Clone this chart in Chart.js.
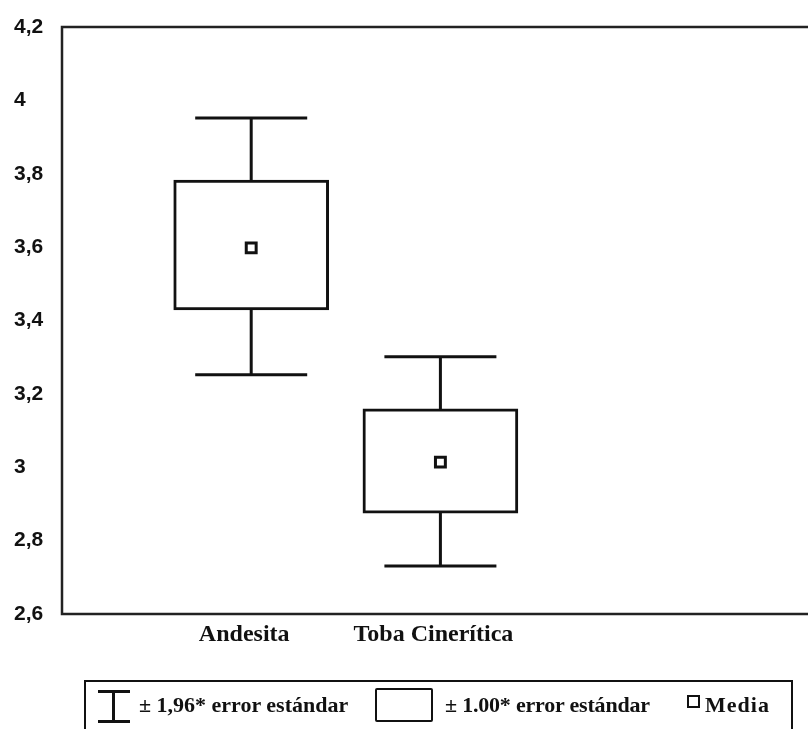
<!DOCTYPE html>
<html lang="es">
<head>
    <meta charset="UTF-8">
    <title>Andesita / Toba Cinerítica</title>
    <style>
        body {
            margin: 0;
            background: #fff;
            overflow: hidden;
        }
        #wrap {
            position: relative;
            width: 808px;
            height: 729px;
        }
        .legend {
            position: absolute;
            left: 84px;
            top: 680px;
            width: 709px;
            height: 49px;
            box-sizing: border-box;
            border: 2px solid #111;
            border-bottom: none;
            font-family: "Liberation Serif", serif;
            font-weight: bold;
            font-size: 22px;
            color: #111;
        }
        .legend .txt {
            position: absolute;
            top: 0;
            line-height: 45px;
            white-space: nowrap;
        }
        .ibeam {
            position: absolute;
            left: 12px;
            top: 8px;
            width: 32px;
            height: 33px;
            box-sizing: border-box;
            border-top: 3px solid #111;
            border-bottom: 3px solid #111;
        }
        .ibeam::after {
            content: "";
            position: absolute;
            left: 14px;
            top: 0;
            bottom: 0;
            width: 3px;
            background: #111;
        }
        .boxsym {
            position: absolute;
            left: 289px;
            top: 6px;
            width: 58px;
            height: 34px;
            box-sizing: border-box;
            border: 2.5px solid #111;
            border-radius: 2px;
        }
        .meansym {
            position: absolute;
            left: 601px;
            top: 13px;
            width: 13px;
            height: 13px;
            box-sizing: border-box;
            border: 2.5px solid #111;
        }
    </style>
</head>
<body>

<div id="wrap">
    <canvas id="chart" width="808" height="729"></canvas>
    <div class="legend">
        <div class="ibeam"></div>
        <span class="txt" style="left:53px">± 1,96* error estándar</span>
        <div class="boxsym"></div>
        <span class="txt" style="left:359px; letter-spacing:-0.2px">± 1.00* error estándar</span>
        <div class="meansym"></div>
        <span class="txt" style="left:619px; letter-spacing:1px">Media</span>
    </div>
</div>

<script src="https://cdn.jsdelivr.net/npm/chart.js"></script>
<script>
    // values
    const categories = ['Andesita', 'Toba Cinerítica'];
    const xPos = [1, 2];
    const means = [3.598, 3.014];
    const boxLow = [3.429, 2.875];
    const boxHigh = [3.783, 3.159];
    const whiskerLow = [3.252, 2.731];
    const whiskerHigh = [3.952, 3.301];
    const yTicks = [2.6, 2.8, 3, 3.2, 3.4, 3.6, 3.8, 4, 4.2];
    const yTickLabels = ['2,6', '2,8', '3', '3,2', '3,4', '3,6', '3,8', '4', '4,2'];

    const ink = '#111';

    // frame: left, top and bottom sides (right side runs off the page)
    const framePlugin = {
        id: 'frame',
        beforeDatasetsDraw(chart) {
            const { ctx, chartArea } = chart;
            ctx.save();
            ctx.strokeStyle = '#222';
            ctx.lineWidth = 2.5;
            ctx.beginPath();
            ctx.moveTo(chart.width, chartArea.top);
            ctx.lineTo(chartArea.left, chartArea.top);
            ctx.lineTo(chartArea.left, chartArea.bottom);
            ctx.lineTo(chart.width, chartArea.bottom);
            ctx.stroke();
            ctx.restore();
        }
    };

    // ±1.96 SE whiskers
    const whiskerPlugin = {
        id: 'whiskers',
        afterDatasetsDraw(chart) {
            const { ctx } = chart;
            const xs = chart.scales.x;
            const ys = chart.scales.y;
            const capHalf = 56;
            ctx.save();
            ctx.strokeStyle = ink;
            ctx.lineWidth = 3;
            xPos.forEach((xv, i) => {
                const x = xs.getPixelForValue(xv);
                const pairs = [[boxHigh[i], whiskerHigh[i]], [boxLow[i], whiskerLow[i]]];
                pairs.forEach(([from, to]) => {
                    const y0 = ys.getPixelForValue(from);
                    const y1 = ys.getPixelForValue(to);
                    ctx.beginPath();
                    ctx.moveTo(x, y0);
                    ctx.lineTo(x, y1);
                    ctx.moveTo(x - capHalf, y1);
                    ctx.lineTo(x + capHalf, y1);
                    ctx.stroke();
                });
            });
            ctx.restore();
        }
    };

    new Chart(document.getElementById('chart'), {
        type: 'scatter',
        data: {
            datasets: [
                {
                    type: 'bar',
                    order: 2,
                    data: xPos.map((x, i) => ({ x: x, y: [boxLow[i], boxHigh[i]] })),
                    backgroundColor: '#fff',
                    borderColor: ink,
                    borderWidth: 3,
                    borderSkipped: false,
                    barThickness: 155
                },
                {
                    type: 'scatter',
                    order: 1,
                    data: xPos.map((x, i) => ({ x: x, y: means[i] })),
                    pointStyle: 'rect',
                    pointRadius: 7,
                    pointBackgroundColor: '#fff',
                    pointBorderColor: ink,
                    pointBorderWidth: 3
                }
            ]
        },
        options: {
            responsive: false,
            animation: false,
            layout: {
                padding: { left: 14, top: 27, right: 0, bottom: 75 }
            },
            plugins: {
                legend: { display: false },
                tooltip: { enabled: false }
            },
            scales: {
                x: {
                    type: 'linear',
                    offset: false,
                    bounds: 'data',
                    min: 0,
                    max: 3.89,
                    grid: { display: false, drawTicks: false, offset: false },
                    border: { display: false },
                    afterBuildTicks: (scale) => {
                        scale.ticks = xPos.map(v => ({ value: v }));
                    },
                    afterFit: (scale) => { scale.height = 40; },
                    ticks: {
                        autoSkip: false,
                        maxRotation: 0,
                        padding: 6,
                        labelOffset: -7,
                        color: ink,
                        font: { family: '"Liberation Serif", serif', weight: 'bold', size: 24 },
                        callback: (v, i) => categories[i]
                    }
                },
                y: {
                    type: 'linear',
                    min: 2.6,
                    max: 4.2,
                    grid: { display: false, drawTicks: false },
                    border: { display: false },
                    afterBuildTicks: (scale) => {
                        scale.ticks = yTicks.map(v => ({ value: v }));
                    },
                    afterFit: (scale) => { scale.width = 48; },
                    ticks: {
                        crossAlign: 'far',
                        color: ink,
                        font: { family: '"Liberation Sans", sans-serif', weight: 'bold', size: 21 },
                        callback: (v, i) => yTickLabels[i]
                    }
                }
            }
        },
        plugins: [framePlugin, whiskerPlugin]
    });
</script>

</body>
</html>
